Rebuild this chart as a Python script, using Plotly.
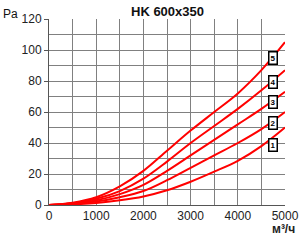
import plotly.graph_objects as go

flow = [0, 500, 1000, 1500, 2000, 2500, 3000, 3500, 4000, 4500, 5000]
curve1 = [0, 0.4, 1.3, 3.0, 5.5, 9.5, 15, 21.5, 28.5, 38, 50]
curve2 = [0, 0.6, 2.2, 5.0, 9.0, 16, 24, 32, 40, 49, 60]
curve3 = [0, 0.9, 3.0, 7.0, 13, 22, 32, 42, 52, 62, 73]
curve4 = [0, 1.2, 4.0, 9.0, 17, 28, 40, 51, 62, 74, 87]
curve5 = [0, 1.5, 5.0, 12, 22, 35, 48, 60, 72, 87, 105]
series = [curve1, curve2, curve3, curve4, curve5]
labels = ["1", "2", "3", "4", "5"]
label_x = [4753, 4753, 4753, 4753, 4753]
label_y = [38.7, 52.6, 66.6, 79.5, 94.8]

x_ticks = [0, 1000, 2000, 3000, 4000, 5000]
y_ticks = [0, 20, 40, 60, 80, 100, 120]

fig = go.Figure()
for s in series:
    fig.add_trace(go.Scatter(x=flow, y=s, mode="lines", line=dict(color="#ff0000", width=2, shape="spline", smoothing=1.0),
                             showlegend=False, hoverinfo="skip"))

for lab, lx, ly in zip(labels, label_x, label_y):
    fig.add_annotation(x=lx, y=ly, text="<b>" + lab + "</b>", showarrow=False,
                       font=dict(size=8, color="#000", family="Liberation Sans"),
                       bgcolor="#ffffff", bordercolor="#000000", borderwidth=1.5, borderpad=1)

fig.add_annotation(xref="paper", yref="paper", x=0.5, y=1.0, yshift=8, text="<b>HK 600x350</b>",
                   showarrow=False, xanchor="center", yanchor="middle",
                   font=dict(size=13, color="#111", family="Liberation Sans"))
fig.add_annotation(xref="paper", yref="paper", x=-0.205, y=1.0, text="Pa", showarrow=False,
                   xanchor="left", yanchor="middle", yshift=5,
                   font=dict(size=12, color="#111", family="Liberation Sans"))
fig.add_annotation(xref="paper", yref="paper", x=1.05, y=0, yshift=-24, text="<b>м³/ч</b>", showarrow=False,
                   xanchor="right", yanchor="middle",
                   font=dict(size=12, color="#222", family="Liberation Sans"))

grid_c = "#808080"
fig.update_layout(
    width=300, height=240,
    margin=dict(l=49, r=15, t=19, b=35),
    paper_bgcolor="white", plot_bgcolor="white",
    xaxis=dict(range=[0, 5000], tickvals=x_ticks, ticktext=[str(v) for v in x_ticks], automargin=False,
               showgrid=True, gridcolor=grid_c, gridwidth=1, zeroline=False,
               showline=True, linecolor="#555", mirror=False, ticks="",
               minor=dict(dtick=500, showgrid=True, gridcolor=grid_c, gridwidth=1),
               tickfont=dict(size=12, color="#222", family="Liberation Sans")),
    yaxis=dict(range=[0, 120], tickvals=y_ticks, ticktext=[str(v) for v in y_ticks], automargin=False,
               showgrid=True, gridcolor=grid_c, gridwidth=1, zeroline=False,
               showline=True, linecolor="#555", mirror=False, ticks="outside", ticklen=4, tickcolor="#555",
               minor=dict(dtick=10, showgrid=True, gridcolor=grid_c, gridwidth=1),
               tickfont=dict(size=12, color="#222", family="Liberation Sans")),
)

fig.write_html("out.html")
